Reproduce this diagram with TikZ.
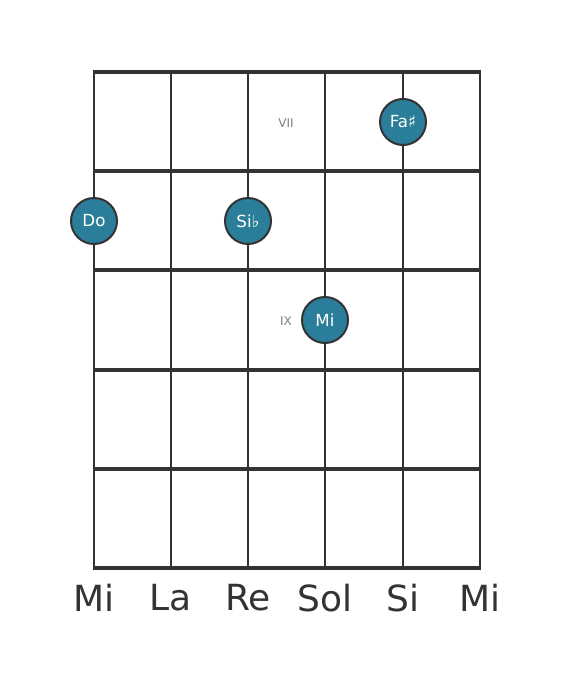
\documentclass[tikz,border=0pt]{standalone}
\usepackage{fontspec}
\setmainfont{DejaVu Sans}
\usepackage{tikz}
\definecolor{grid}{HTML}{333333}
\definecolor{dot}{HTML}{2B7E99}

\begin{document}
\begin{tikzpicture}[
  x=0.75pt, y=-0.75pt,
  string/.style={grid, line width=2pt},
  fret/.style={grid, line width=3.2pt},
  finger/.style={circle, fill=dot, draw=grid, line width=1.5pt, minimum size=34.5pt, inner sep=0pt, text=white, font=\fontsize{12.5}{12.5}\selectfont},
  fretnum/.style={text=gray, font=\fontsize{9}{9}\selectfont},
  stringname/.style={text=grid, font=\fontsize{27}{27}\selectfont},
]
\useasboundingbox (0,0) rectangle (568,682);
% strings
\foreach \x in {94,171,248,325,403,480}
  \draw[string] (\x,70) -- (\x,570);
% frets
\foreach \y in {72,171,270,370,469,568}
  \draw[fret] (93,\y) -- (481,\y);
% fret numbers
\node[fretnum] (vii) at (286,123) {VII};
\node[fretnum] (ix) at (286,321) {IX};
% fingers
\node[finger] (fa) at (403,122) {Fa♯};
\node[finger] (do) at (94,221) {Do};
\node[finger] (sib) at (248,221) {Si♭};
\node[finger] (mi) at (325,320) {Mi};
% string names
\node[stringname] (s1) at (94,598) {Mi};
\node[stringname] (s2) at (171,598) {La};
\node[stringname] (s3) at (248,598) {Re};
\node[stringname] (s4) at (325,598) {Sol};
\node[stringname] (s5) at (403,598) {Si};
\node[stringname] (s6) at (480,598) {Mi};
\end{tikzpicture}
\end{document}
